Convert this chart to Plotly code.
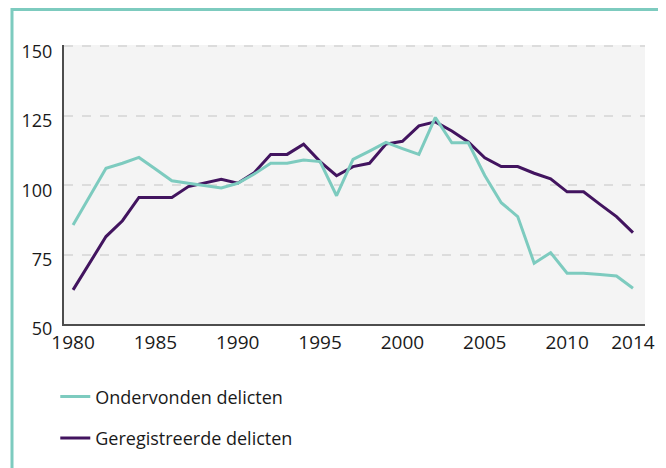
import plotly.graph_objects as go

years = list(range(1980, 2015))

ondervonden = [85.7, 95.9, 106.1, 107.9, 110.0, 105.8, 101.6, 100.7, 99.8, 99.0,
               100.7, 104.0, 107.9, 107.9, 109.1, 108.5, 96.2, 109.3, 112.3, 115.4,
               113.2, 111.1, 124.4, 115.3, 115.3, 103.5, 93.7, 88.7, 71.9, 75.7,
               68.3, 68.3, 67.8, 67.3, 62.9]

geregistreerd = [62.3, 71.9, 81.5, 87.2, 95.6, 95.6, 95.6, 99.5, 100.7, 102.1,
                 100.7, 104.5, 111.1, 111.1, 114.8, 108.5, 103.4, 106.7, 107.9, 114.8,
                 115.8, 121.4, 122.8, 119.5, 115.6, 109.9, 106.7, 106.7, 104.3, 102.3,
                 97.6, 97.6, 93.1, 88.7, 82.9]

x_ticks = [1980, 1985, 1990, 1995, 2000, 2005, 2010, 2014]
x_tick_labels = ["1980", "1985", "1990", "1995", "2000", "2005", "2010", "2014"]
y_ticks = [50, 75, 100, 125, 150]

TEAL = "#7dcbbf"
PURPLE = "#42145f"
FONT = "Open Sans"

# page body has an 8px default margin; figure is sized to fit the window
W, H = 658, 460
L, T, R, B = 56, 37, 21, 144
PW, PH = W - L - R, H - T - B

fig = go.Figure()
fig.add_trace(go.Scatter(
    x=years, y=geregistreerd, mode="lines", name="Geregistreerde delicten",
    line=dict(color=PURPLE, width=3), legendrank=2, legendgroup="b",
))
fig.add_trace(go.Scatter(
    x=years, y=ondervonden, mode="lines", name="Ondervonden delicten",
    line=dict(color=TEAL, width=3), legendrank=1, legendgroup="a",
))

fig.update_layout(
    width=W, height=H,
    margin=dict(l=L, r=R, t=T, b=B),
    paper_bgcolor="white",
    plot_bgcolor="#f4f4f4",
    font=dict(family=FONT, color="#1a1a1a"),
    showlegend=True,
    legend=dict(
        x=-0.015, y=-0.195, xanchor="left", yanchor="top",
        orientation="v", font=dict(size=18, family=FONT, color="#1a1a1a"),
        tracegroupgap=15, bgcolor="rgba(0,0,0,0)",
    ),
    xaxis=dict(
        range=[1979.45, 2014.73],
        tickmode="array", tickvals=x_ticks, ticktext=x_tick_labels,
        showgrid=False, zeroline=False,
        showline=True, linecolor="#4d4d4d", linewidth=2,
        ticks="", tickfont=dict(size=19, family=FONT, color="#1a1a1a"),
    ),
    yaxis=dict(
        range=[50, 150.5],
        tickmode="array", tickvals=y_ticks,
        showgrid=True, gridcolor="#dcdcdc", griddash="dash", gridwidth=1.5,
        zeroline=False,
        showline=True, linecolor="#4d4d4d", linewidth=2,
        ticks="", tickfont=dict(size=18, family=FONT, color="#1a1a1a"),
        ticklabelshift=5, ticklabelstandoff=6,
    ),
    shapes=[dict(
        type="rect", xref="paper", yref="paper",
        x0=(4 - L) / PW, x1=(654 - L) / PW,
        y0=-(H + 20 - (T + PH)) / PH, y1=(T + PH - 1.5) / PH,
        line=dict(color=TEAL, width=3), fillcolor="rgba(0,0,0,0)", layer="below",
    )],
)

fig.write_html("out.html")
